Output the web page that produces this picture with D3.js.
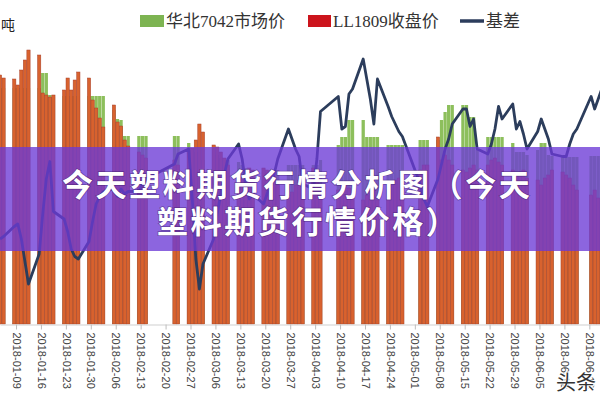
<!DOCTYPE html>
<html>
<head>
<meta charset="utf-8">
<script src="https://cdn.jsdelivr.net/npm/d3@7"></script>
<style>
  html, body { margin: 0; padding: 0; background: #ffffff; }
  svg { display: block; }
</style>
</head>
<body>
<div id="chart"></div>
<script>
// ---------------- data ----------------
const dates = [
  "2018-01-04","2018-01-05","2018-01-08","2018-01-09","2018-01-10","2018-01-11","2018-01-12",
  "2018-01-15","2018-01-16","2018-01-17","2018-01-18","2018-01-19","2018-01-22","2018-01-23",
  "2018-01-24","2018-01-25","2018-01-26","2018-01-29","2018-01-30","2018-01-31",
  "2018-02-01","2018-02-02","2018-02-05","2018-02-06","2018-02-07","2018-02-08","2018-02-09",
  "2018-02-12","2018-02-13","2018-02-14","2018-02-22","2018-02-23","2018-02-26","2018-02-27","2018-02-28",
  "2018-03-01","2018-03-02","2018-03-05","2018-03-06","2018-03-07","2018-03-08","2018-03-09",
  "2018-03-12","2018-03-13","2018-03-14","2018-03-15","2018-03-16","2018-03-19","2018-03-20",
  "2018-03-21","2018-03-22","2018-03-23","2018-03-26","2018-03-27","2018-03-28","2018-03-29","2018-03-30",
  "2018-04-02","2018-04-03","2018-04-04","2018-04-09","2018-04-10","2018-04-11","2018-04-12","2018-04-13",
  "2018-04-16","2018-04-17","2018-04-18","2018-04-19","2018-04-20","2018-04-23","2018-04-24",
  "2018-04-25","2018-04-26","2018-04-27",
  "2018-05-02","2018-05-03","2018-05-04","2018-05-07","2018-05-08","2018-05-09","2018-05-10","2018-05-11",
  "2018-05-14","2018-05-15","2018-05-16","2018-05-17","2018-05-18","2018-05-21","2018-05-22",
  "2018-05-23","2018-05-24","2018-05-25","2018-05-28","2018-05-29","2018-05-30","2018-05-31",
  "2018-06-01","2018-06-04","2018-06-05","2018-06-06","2018-06-07","2018-06-08","2018-06-11",
  "2018-06-12","2018-06-13","2018-06-14","2018-06-15","2018-06-19","2018-06-20","2018-06-21","2018-06-22"
];

// 华北7042市场价 (元/吨)
const spotPrice = [
  9980,9980,9980,9980,9980,9980,9980,
  9980,10055,10055,9945,9935,9940,9940,
  9940,9940,9940,9940,9940,9940,
  9940,9940,9870,9825,9820,9740,9740,
  9740,9740,9740,9740,9740,9705,9670,9660,
  9620,9620,9660,9645,9630,9620,9620,
  9610,9595,9580,9570,9570,9560,9560,
  9570,9570,9570,9595,9595,9595,9595,9595,
  9595,9595,9620,9695,9735,9735,9820,9820,
  9820,9735,9735,9735,9735,9695,9695,
  9695,9695,9695,
  9720,9720,9720,9720,9820,9860,9895,9895,
  9895,9895,9835,9835,9670,9735,9735,
  9735,9735,9735,9705,9660,9660,9660,
  9645,9670,9705,9705,9645,9640,9640,
  9635,9635,9635,9635,9640,9640,9640,9640
];

// LL1809收盘价 (元/吨)
const futuresClose = [
  10045,10030,10025,9995,10070,10120,10170,
  10145,9955,9945,9935,9945,9970,10030,
  9970,10020,10060,10030,9920,9880,
  9830,9785,9895,9810,9790,9720,9690,
  9660,9645,9630,9620,9595,9670,9680,9720,
  9800,9760,9695,9685,9660,9630,9595,
  9545,9545,9570,9580,9570,9580,9570,
  9560,9540,9495,9445,9460,9495,9520,9570,
  9580,9545,9495,9470,9495,9510,9480,9470,
  9420,9445,9495,9470,9420,9470,9495,
  9520,9530,9545,
  9570,9595,9595,9735,9620,9645,9620,9595,
  9570,9560,9580,9595,9570,9595,9620,
  9630,9610,9595,9570,9545,9560,9570,
  9530,9520,9495,9530,9545,9570,9560,
  9545,9530,9495,9470,9445,9470,9430,9420
];

// 基差 (元/吨)
const basis = [
  -260,-250,-210,-200,-260,-350,-440,
  -320,-160,-20,50,-150,-180,-230,
  -300,-330,-340,-270,-190,-120,
  -90,-70,-60,-90,-60,-80,-70,
  -70,-40,-20,40,80,100,-100,-340,
  -460,-360,-260,-160,-80,0,60,
  120,60,-40,-100,-80,-120,-80,
  -40,0,60,180,140,100,70,-40,
  -60,60,250,310,180,190,320,340,
  460,380,300,200,380,270,230,
  200,170,150,
  -40,-100,-130,-20,40,100,140,200,
  260,260,190,220,100,80,120,
  180,270,220,280,180,210,160,
  100,170,220,180,140,80,70,
  70,120,160,180,310,260,300,340
];

const tickLabels = [
  "2018-01-09","2018-01-16","2018-01-23","2018-01-30","2018-02-06","2018-02-13",
  "2018-02-20","2018-02-27","2018-03-06","2018-03-13","2018-03-20","2018-03-27",
  "2018-04-03","2018-04-10","2018-04-17","2018-04-24","2018-05-01","2018-05-08",
  "2018-05-15","2018-05-22","2018-05-29","2018-06-05","2018-06-12","2018-06-19"
];

const seriesNames = ["华北7042市场价", "LL1809收盘价", "基差"];
const unitLabel = "吨";
const titleLines = ["今天塑料期货行情分析图（今天", "塑料期货行情价格）"];
const watermark = "头条";

// ---------------- drawing ----------------
const W = 600, H = 400;
const parse = d3.timeParse("%Y-%m-%d");
const rows = dates.map((d, i) => ({
  date: parse(d),
  spot: spotPrice[i],
  fut: futuresClose[i],
  basis: basis[i]
}));

const svg = d3.select("#chart").append("svg")
  .attr("width", W).attr("height", H)
  .style("font-family", "'Liberation Sans', 'Noto Sans CJK SC', sans-serif");

const baseY = 324;
const x = d3.scaleTime()
  .domain([new Date(2018, 0, 4, 12), new Date(2018, 5, 22, 0)])
  .range([0, W]);
const yL = d3.scaleLinear().domain([8800, 10420]).range([baseY, 0]);
const yR = d3.scaleLinear().domain([-600, 600]).range([baseY, 24]);

const dayW = x(new Date(2018, 0, 10)) - x(new Date(2018, 0, 9));
const barW = dayW * 0.92;
const mid = d => x(d3.timeHour.offset(d, 12));

const plot = svg.append("g");

// spot bars (green)
plot.append("g").selectAll("rect").data(rows).join("rect")
  .attr("x", d => mid(d.date) - barW / 2)
  .attr("width", barW)
  .attr("y", d => yL(d.spot))
  .attr("height", d => baseY - yL(d.spot))
  .attr("fill", "#8dbf5c");

// futures bars (red)
plot.append("g").selectAll("rect").data(rows).join("rect")
  .attr("x", d => mid(d.date) - barW / 2)
  .attr("width", barW)
  .attr("y", d => yL(d.fut))
  .attr("height", d => baseY - yL(d.fut))
  .attr("fill", "#d8622e")
  .attr("stroke", "#a8402c")
  .attr("stroke-width", 0.5);

// basis line
const line = d3.line()
  .x(d => mid(d.date))
  .y(d => yR(d.basis));
plot.append("path")
  .datum(rows)
  .attr("d", line)
  .attr("fill", "none")
  .attr("stroke", "#2c3d5c")
  .attr("stroke-width", 2.8)
  .attr("stroke-linejoin", "round");

// x axis
const xAxis = d3.axisBottom(x)
  .tickValues(tickLabels.map(parse))
  .tickFormat(d3.timeFormat("%Y-%m-%d"))
  .tickSize(5)
  .tickSizeOuter(0);
const ax = svg.append("g")
  .attr("transform", `translate(0,${baseY + 0.5})`)
  .call(xAxis);
ax.select(".domain").attr("stroke", "#cfcfcf");
ax.selectAll(".tick line").attr("stroke", "#bdbdbd");
ax.selectAll(".tick text")
  .attr("fill", "#444")
  .style("font-size", "11px")
  .style("font-family", "'Liberation Sans', Arial, sans-serif")
  .attr("text-anchor", "start")
  .attr("transform", "rotate(90)")
  .attr("x", 8)
  .attr("y", 0)
  .attr("dy", "0.35em");

// unit label (only its last character shows at the left edge)
svg.append("text")
  .attr("x", 1).attr("y", 30)
  .attr("fill", "#222")
  .style("font-size", "14px")
  .style("font-family", "'Noto Sans CJK SC', sans-serif")
  .text(unitLabel);

// legend
const legend = svg.append("g")
  .style("font-family", "'Liberation Serif', 'Noto Sans CJK SC', serif")
  .style("font-size", "17px")
  .attr("fill", "#333");
legend.append("rect").attr("x", 140).attr("y", 15).attr("width", 24).attr("height", 12).attr("fill", "#7db452");
legend.append("text").attr("x", 166).attr("y", 27).text(seriesNames[0]);
legend.append("rect").attr("x", 308).attr("y", 15).attr("width", 23).attr("height", 12).attr("fill", "#cc141c");
legend.append("text").attr("x", 333).attr("y", 27).text(seriesNames[1]);
legend.append("line").attr("x1", 460).attr("x2", 484).attr("y1", 21).attr("y2", 21)
  .attr("stroke", "#2c3d5c").attr("stroke-width", 3.5);
legend.append("text").attr("x", 486).attr("y", 27).text(seriesNames[2]);

// title banner
svg.append("rect")
  .attr("x", 0).attr("y", 147).attr("width", W).attr("height", 104)
  .attr("fill", "rgb(108,58,214)")
  .attr("fill-opacity", 0.78);
const title = svg.append("g")
  .style("font-family", "'Noto Sans CJK SC', sans-serif")
  .style("font-weight", "700")
  .style("font-size", "31px")
  .style("letter-spacing", "2.6px")
  .attr("fill", "#ffffff")
  .attr("stroke", "rgba(50,20,90,0.45)")
  .attr("stroke-width", 1.5)
  .attr("paint-order", "stroke");
title.append("text").attr("x", 62).attr("y", 196).text(titleLines[0]);
title.append("text").attr("x", 157).attr("y", 233).text(titleLines[1]);

// watermark
svg.append("text")
  .attr("x", 556).attr("y", 390)
  .style("font-family", "'Noto Sans CJK SC', sans-serif")
  .style("font-size", "20px")
  .attr("fill", "#333")
  .attr("stroke", "#fff")
  .attr("stroke-width", 2)
  .attr("paint-order", "stroke")
  .text(watermark);
</script>
</body>
</html>
